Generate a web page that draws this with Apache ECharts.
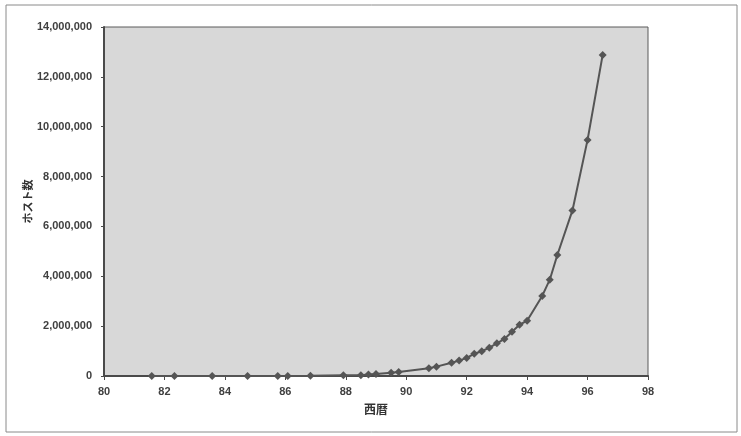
<!DOCTYPE html>
<html><head><meta charset="utf-8">
<script src="https://cdn.jsdelivr.net/npm/echarts@6/dist/echarts.min.js"></script>
<style>html,body{margin:0;padding:0;background:#fff}#c{width:741px;height:436px}</style>
</head><body><div id="c"></div>
<script>
// Survey dates (year within 1900s, fractional) and host counts
var years = [81.58, 82.33, 83.58, 84.75, 85.75, 86.08, 86.83, 87.92, 88.5, 88.75,
  89.0, 89.5, 89.75, 90.75, 91.0, 91.5, 91.75, 92.0, 92.25, 92.5,
  92.75, 93.0, 93.25, 93.5, 93.75, 94.0, 94.5, 94.75, 95.0, 95.5,
  96.0, 96.5];
var hosts = [213, 235, 562, 1024, 1961, 2308, 5089, 28174, 33000, 56000,
  80000, 130000, 159000, 313000, 376000, 535000, 617000, 727000, 890000, 992000,
  1136000, 1313000, 1486000, 1776000, 2056000, 2217000, 3212000, 3864000, 4852000, 6642000,
  9472000, 12881000];
var xTicks = [80, 82, 84, 86, 88, 90, 92, 94, 96, 98];
var yTicks = [0, 2000000, 4000000, 6000000, 8000000, 10000000, 12000000, 14000000];
var xName = '西暦';
var yName = 'ホスト数';

var pts = years.map(function (y, i) { return [y, hosts[i]]; });
var font = '"Liberation Sans", Arial, sans-serif';
var chart = echarts.init(document.getElementById('c'));
chart.setOption({
  animation: false,
  backgroundColor: '#ffffff',
  graphic: [{
    type: 'rect', shape: { x: 6, y: 5, width: 731, height: 427 },
    style: { fill: 'none', stroke: '#8a8a8a', lineWidth: 1 }, silent: true, z: -1
  }],
  grid: {
    left: 104, right: 93, top: 27, bottom: 60,
    show: true, backgroundColor: '#d8d8d8', borderColor: '#5a5a5a', borderWidth: 1
  },
  xAxis: {
    type: 'value', min: xTicks[0], max: xTicks[xTicks.length - 1], interval: 2,
    name: xName, nameLocation: 'middle', nameGap: 27, nameMoveOverlap: false,
    nameTextStyle: { fontFamily: '"Noto Sans CJK JP", sans-serif', fontWeight: 'bold', fontSize: 12, color: '#333' },
    axisLine: { lineStyle: { color: '#4a4a4a', width: 2 } },
    axisTick: { show: true, length: 4, lineStyle: { color: '#4a4a4a' } },
    axisLabel: { margin: 10, fontFamily: font, fontWeight: 'bold', fontSize: 11, color: '#404040' },
    splitLine: { show: false }
  },
  yAxis: {
    type: 'value', min: yTicks[0], max: yTicks[yTicks.length - 1], interval: 2000000,
    name: yName, nameLocation: 'middle', nameGap: 71, nameRotate: 90, nameMoveOverlap: false,
    nameTextStyle: { fontFamily: '"Noto Sans CJK JP", sans-serif', fontWeight: 'bold', fontSize: 11, color: '#333' },
    axisLine: { show: true, lineStyle: { color: '#4a4a4a', width: 2 } },
    axisTick: { show: true, length: 3, lineStyle: { color: '#4a4a4a' } },
    axisLabel: {
      margin: 12, fontFamily: font, fontWeight: 'bold', fontSize: 11, color: '#404040',
      formatter: function (v) { return v.toLocaleString('en-US'); }
    },
    splitLine: { show: false }
  },
  series: [{
    type: 'line', data: pts, symbol: 'diamond', symbolSize: 8,
    lineStyle: { color: '#555555', width: 2 },
    itemStyle: { color: '#555555' }
  }]
});
</script></body></html>
